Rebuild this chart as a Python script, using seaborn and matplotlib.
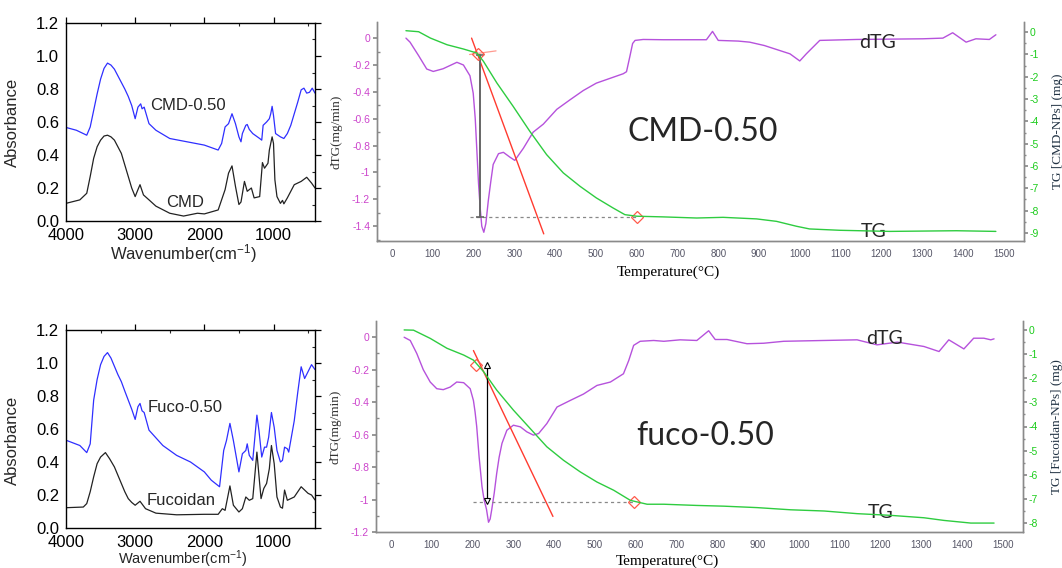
import numpy as np
import pandas as pd
import matplotlib
matplotlib.use("Agg")
import matplotlib.pyplot as plt
import seaborn as sns

# ---------------- FTIR data ----------------
cmd050_wn = [4000, 3850, 3700, 3650, 3600, 3550, 3500, 3450, 3400, 3350, 3300, 3250, 3200, 3150, 3100, 3050, 3000,
             2960, 2920, 2900, 2870, 2800, 2700, 2500, 2000,
             1800, 1750, 1700, 1650, 1600, 1550, 1500, 1470, 1450, 1400, 1380, 1350, 1300, 1200, 1170, 1150, 1100,
             1060, 1040, 1020, 1000, 970, 900, 850, 800, 750, 700, 650, 600, 560, 520, 480, 440, 400]
cmd050_abs = [0.567, 0.55, 0.52, 0.57, 0.67, 0.77, 0.86, 0.925, 0.957, 0.945, 0.92, 0.88, 0.84, 0.80, 0.755, 0.70,
              0.62, 0.69, 0.71, 0.68, 0.69, 0.59, 0.55, 0.50, 0.46,
              0.43, 0.47, 0.57, 0.59, 0.65, 0.59, 0.51, 0.48, 0.53, 0.58, 0.585, 0.555, 0.53, 0.50, 0.49, 0.58, 0.60,
              0.62, 0.65, 0.695, 0.64, 0.53, 0.51, 0.50, 0.53, 0.58, 0.65, 0.72, 0.795, 0.805, 0.775, 0.78, 0.805,
              0.775]
cmd_wn = [4000, 3800, 3700, 3650, 3600, 3550, 3500, 3450, 3400, 3350, 3300, 3250, 3200, 3150, 3100, 3050, 3000,
          2960, 2930, 2880, 2800, 2700, 2500, 2300, 2100,
          2000, 1800, 1700, 1650, 1600, 1550, 1500, 1470, 1420, 1380, 1320, 1280, 1200, 1160, 1130, 1080, 1060, 1020,
          1000, 980, 950, 900, 870, 850, 800, 700, 600, 520, 450, 400]
cmd_abs = [0.107, 0.128, 0.168, 0.27, 0.38, 0.45, 0.49, 0.515, 0.52, 0.51, 0.49, 0.45, 0.41, 0.34, 0.27, 0.20, 0.148,
           0.19, 0.22, 0.158, 0.128, 0.09, 0.047, 0.03, 0.047,
           0.043, 0.067, 0.19, 0.29, 0.334, 0.21, 0.10, 0.115, 0.24, 0.18, 0.20, 0.14, 0.148, 0.354,
           0.32, 0.35, 0.43, 0.51, 0.47, 0.25, 0.148, 0.107, 0.125, 0.104, 0.14, 0.22, 0.24, 0.265, 0.23, 0.20]
fuco050_wn = [4000, 3800, 3700, 3650, 3600, 3550, 3500, 3450, 3400, 3350, 3300, 3250, 3200, 3150, 3100, 3050, 3000,
              2960, 2930, 2900, 2870, 2800, 2600,
              2400, 2200, 2000, 1900, 1780, 1720, 1680, 1630, 1580, 1500, 1450, 1400, 1380, 1350, 1300, 1260, 1240,
              1210, 1170, 1130, 1100, 1070, 1030, 990, 950, 900, 870, 840, 800, 780, 700, 650, 600, 550, 450, 400]
fuco050_abs = [0.532, 0.50, 0.457, 0.51, 0.775, 0.90, 0.99, 1.04, 1.063, 1.03, 0.98, 0.93, 0.887, 0.83, 0.775, 0.72,
               0.658, 0.735, 0.755, 0.71, 0.70, 0.593, 0.50, 0.44, 0.40, 0.34, 0.29, 0.25, 0.47, 0.53, 0.634, 0.53,
               0.34, 0.45, 0.47, 0.51, 0.44, 0.41,
               0.593, 0.684, 0.59, 0.43, 0.49, 0.49, 0.55, 0.70, 0.61, 0.47, 0.40, 0.41, 0.49, 0.48, 0.46, 0.65,
               0.82, 0.977, 0.906, 0.99, 0.96]
fucoidan_wn = [4000, 3750, 3700, 3650, 3600, 3550, 3500, 3430, 3370, 3300, 3250, 3200, 3150, 3100, 3050, 3000, 2930,
               2850, 2700, 2400, 2000, 1800, 1740,
               1700, 1630, 1580, 1500, 1450, 1400, 1350, 1300, 1240, 1200, 1180, 1140, 1100, 1060, 1030, 990, 950,
               900, 870, 840, 800, 700, 600, 550, 500, 450, 400]
fucoidan_abs = [0.123, 0.127, 0.148, 0.22, 0.31, 0.39, 0.43, 0.457, 0.42, 0.37, 0.32, 0.27, 0.22, 0.178, 0.155,
                0.138, 0.162, 0.117, 0.09, 0.08, 0.083,
                0.083, 0.117, 0.107, 0.255, 0.138, 0.097, 0.117, 0.188, 0.168, 0.178, 0.46, 0.27, 0.178, 0.24, 0.27,
                0.36, 0.50, 0.39, 0.188, 0.127, 0.12, 0.23, 0.168, 0.188, 0.25, 0.23, 0.21, 0.20, 0.17]

ftir_xticks = [4000, 3000, 2000, 1000]
ftir_yticks = [0.0, 0.2, 0.4, 0.6, 0.8, 1.0, 1.2]

# ---------------- TGA data: CMD-0.50 ----------------
cmd_dtg_T = [34, 44, 65, 85, 101, 125, 159, 175, 191, 199, 204, 208, 212, 216, 220, 225, 230, 236, 242, 248, 261,
             273, 289, 301, 322, 346,
             371, 404, 436, 469, 501, 534, 567, 575, 583, 590, 596, 616, 665, 730, 771, 786, 800, 849, 877, 913, 976,
             1000, 1016, 1049, 1139, 1302, 1351, 1375, 1408, 1432, 1465, 1481]
cmd_dtg = [0.0, -0.03, -0.13, -0.23, -0.248, -0.228, -0.18, -0.20, -0.28, -0.41, -0.60, -0.84, -1.08, -1.26, -1.40,
           -1.445, -1.38, -1.21, -1.07, -0.94, -0.86, -0.85, -0.886, -0.91, -0.82, -0.70, -0.64, -0.53, -0.46, -0.39,
           -0.335, -0.30, -0.265, -0.25, -0.14, -0.04, -0.017, -0.01, -0.012, -0.012, -0.012, 0.05, -0.017, -0.022,
           -0.03, -0.055, -0.117, -0.17, -0.117, -0.017, -0.01, -0.005, 0.0, 0.04, -0.03, -0.005, -0.01, 0.025]
cmd_tg_T = [34, 65, 94, 135, 175, 208, 224, 257, 297, 338, 379, 420, 461, 501, 542, 571, 600, 665, 747, 812, 894,
            943, 992, 1024, 1098, 1221, 1384, 1481]
cmd_tg = [0.06, 0.015, -0.27, -0.57, -0.76, -0.94, -1.31, -2.28, -3.33, -4.45, -5.49, -6.31, -6.91, -7.43, -7.88,
          -8.18, -8.25, -8.28, -8.33, -8.30, -8.37, -8.48, -8.70, -8.82, -8.88, -8.93, -8.90, -8.93]
cmd_tangent_T = [195, 372]
cmd_tangent_dtg = [0.0, -1.457]
cmd_base_T = [190, 255]
cmd_base_dtg = [-0.122, -0.095]
cmd_step_T = [216, 216]
cmd_step_dtg = [-0.124, -1.33]
cmd_level_T = [192, 600]
cmd_level_dtg = [-1.33, -1.33]
cmd_marks_T = [210, 600]
cmd_marks_dtg = [-0.115, -1.33]

# ---------------- TGA data: fuco-0.50 ----------------
fuco_dtg_T = [32, 47, 63, 79, 96, 112, 128, 145, 161, 178, 194, 202, 206, 210, 216, 223, 228, 234, 239, 243, 247,
              253, 259, 265, 272, 284, 300,
              317, 333, 349, 362, 382, 407, 439, 472, 505, 538, 570, 583, 595, 611, 644, 669, 709, 750, 779, 795,
              824, 873, 914, 963, 1062, 1143, 1192, 1242, 1307, 1344, 1368, 1405, 1429, 1454, 1471, 1479]
fuco_dtg = [0.0, -0.02, -0.10, -0.20, -0.276, -0.317, -0.323, -0.307, -0.276, -0.28, -0.317, -0.39, -0.46, -0.55,
            -0.74, -0.92, -1.0, -1.06, -1.14, -1.12, -1.06, -0.96, -0.84, -0.74, -0.654, -0.573, -0.542, -0.552,
            -0.583, -0.603, -0.593, -0.532, -0.43, -0.39,
            -0.35, -0.297, -0.276, -0.225, -0.143, -0.05, -0.025, -0.02, -0.025, -0.016, -0.02, 0.04, -0.014,
            -0.014, -0.04, -0.037, -0.025, -0.02, -0.016, -0.047, -0.03, -0.057, -0.088, -0.016, -0.072, -0.006,
            -0.006, -0.016, -0.01]
fuco_tg_T = [32, 55, 96, 137, 178, 202, 227, 259, 300, 341, 382, 423, 464, 505, 546, 587, 628, 669, 750, 816, 898,
             980, 1062, 1143, 1225, 1307, 1356, 1422, 1479]
fuco_tg = [0.0, -0.01, -0.35, -0.76, -1.04, -1.25, -1.73, -2.49, -3.32, -4.08, -4.84, -5.40, -5.88, -6.30, -6.64,
           -7.06, -7.22, -7.22, -7.27, -7.30, -7.36, -7.45, -7.50, -7.61, -7.68, -7.78, -7.89, -8.0, -8.0]
fuco_tangent_T = [202, 397]
fuco_tangent_dtg = [-0.082, -1.104]
fuco_step_T = [236, 236]
fuco_step_dtg = [-0.174, -1.012]
fuco_level_T = [202, 595]
fuco_level_dtg = [-1.018, -1.018]
fuco_marks_T = [208, 595]
fuco_marks_dtg = [-0.17, -1.018]

tga_xticks = [0, 100, 200, 300, 400, 500, 600, 700, 800, 900, 1000, 1100, 1200, 1300, 1400, 1500]

# ---------------- styling ----------------
sns.set_theme(style="white")
plt.rcParams['font.family'] = ['Liberation Sans', 'DejaVu Sans']
plt.rcParams['mathtext.fontset'] = 'custom'
plt.rcParams['mathtext.rm'] = 'Liberation Sans'
plt.rcParams['mathtext.it'] = 'Liberation Sans:italic'
plt.rcParams['mathtext.bf'] = 'Liberation Sans:bold'
plt.rcParams['lines.solid_joinstyle'] = 'round'

BLUE = "#2f2fff"
BLACK = "#222222"
PURPLE = "#b652dc"
GREEN = "#2ecc40"
RED = "#ff3b30"
PINK_TICK = "#cc44cc"
GREEN_TICK = "#1ccc1c"
SPINE_GRAY = "#8a8a8a"
SERIF = ['Liberation Serif', 'DejaVu Serif']
CAL = ['Lato', 'DejaVu Sans']

fig = plt.figure(figsize=(10.62, 5.68), dpi=100)
W, H = 1062, 568


def axes_px(left, top, right, bottom):
    return fig.add_axes([left / W, 1 - bottom / H, (right - left) / W, (bottom - top) / H])


def ftir_panel(ax, wn1, a1, lab1, pos1, wn2, a2, lab2, pos2, ylab_y, xlab_y, xlab_size=12):
    df1 = pd.DataFrame({"wn": wn1, "a": a1})
    df2 = pd.DataFrame({"wn": wn2, "a": a2})
    sns.lineplot(data=df1, x="wn", y="a", ax=ax, color=BLUE, lw=0.9, sort=False, estimator=None)
    sns.lineplot(data=df2, x="wn", y="a", ax=ax, color=BLACK, lw=0.9, sort=False, estimator=None)
    ax.set_xlim(4000, 400)
    ax.set_ylim(0, 1.2)
    ax.set_xticks(ftir_xticks)
    ax.set_yticks(ftir_yticks)
    ax.set_yticklabels([f"{v:.1f}" for v in ftir_yticks])
    ax.set_xticks([3500, 2500, 1500, 500], minor=True)
    ax.set_yticks([0.1, 0.3, 0.5, 0.7, 0.9, 1.1], minor=True)
    ax.tick_params(axis='both', which='major', direction='out', length=4, width=0.9, labelsize=12,
                   colors='black', pad=1)
    ax.tick_params(axis='both', which='minor', direction='in', length=2.5, width=0.8)
    ax.tick_params(top=True, right=True, which='both')
    for s in ax.spines.values():
        s.set_color('black')
        s.set_linewidth(1.0)
    ax.set_xlabel("Wavenumber(cm$^{-1}$)", fontsize=xlab_size, labelpad=0)
    ax.set_ylabel("Absorbance", fontsize=12)
    ax.yaxis.set_label_coords(-0.185, ylab_y)
    ax.xaxis.set_label_coords(0.47, xlab_y)
    ax.text(pos1[0], pos1[1], lab1, fontsize=12, ha='center', va='center')
    ax.text(pos2[0], pos2[1], lab2, fontsize=12, ha='center', va='center')


ax1 = axes_px(66, 23, 315, 221)
ftir_panel(ax1, cmd050_wn, cmd050_abs, "CMD-0.50", (2230, 0.70), cmd_wn, cmd_abs, "CMD", (2280, 0.115), 0.5,
           -0.105)
ax3 = axes_px(66, 330, 315, 528)
ftir_panel(ax3, fuco050_wn, fuco050_abs, "Fuco-0.50", (2280, 0.73), fucoidan_wn, fucoidan_abs, "Fucoidan",
           (2330, 0.165), 0.44, -0.103, xlab_size=10.5)


def tga_panel(ax, dT, dv, tT, tv, tanT, tanv, stepT, stepv, levT, levv, mT, mv, ylim, ylim2, y2ticks,
              y2label, big, bigpos, dtg_pos, tg_pos, base=None, arrow_style='bar', xlab_y=-0.11):
    ax2 = ax.twinx()
    sns.lineplot(x=dT, y=dv, ax=ax, color=PURPLE, lw=1.0, sort=False, estimator=None)
    ax.plot(tanT, tanv, color=RED, lw=1.0)
    if base is not None:
        ax.plot(base[0], base[1], color="#ff9a90", lw=0.9)
    ax.plot(levT, levv, color="#888888", lw=0.9, ls=(0, (2.5, 2.5)))
    if arrow_style == 'bar':
        ax.plot(stepT, stepv, color="#666666", lw=1.4, marker='_', ms=6, mew=1.2)
    else:
        ax.plot(stepT, stepv, color="black", lw=0.9)
        ax.plot(stepT[0], stepv[0], marker='^', ms=5, mfc='white', mec='black', mew=0.8)
        ax.plot(stepT[1], stepv[1], marker='v', ms=5, mfc='white', mec='black', mew=0.8)
    ax.plot(mT, mv, ls='none', marker='D', ms=6, mfc='none', mec="#ff5a4a", mew=0.9)
    sns.lineplot(x=tT, y=tv, ax=ax2, color=GREEN, lw=1.0, sort=False, estimator=None)

    ax.set_xlim(-37, 1550)
    ax.set_ylim(*ylim)
    ax2.set_ylim(*ylim2)
    ax.set_xticks(tga_xticks)
    ax.set_xticks(np.arange(50, 1550, 100), minor=True)
    yt = np.round(np.arange(0, ylim[0] - 1e-9, -0.2), 1)
    ax.set_yticks(yt)
    ax.set_yticklabels(["0" if v == 0 else ("-1" if v == -1 else f"{v:.1f}") for v in yt])
    ax.set_yticks(np.round(np.arange(-0.1, ylim[0], -0.2), 1), minor=True)
    ax2.set_yticks(y2ticks)
    ax2.set_yticklabels([str(v) for v in y2ticks])
    ax2.set_yticks(np.arange(-0.5, y2ticks[-1], -1.0), minor=True)

    ax.spines['top'].set_visible(False)
    ax2.spines['top'].set_visible(False)
    for s in ['left', 'bottom', 'right']:
        ax.spines[s].set_color(SPINE_GRAY)
        ax.spines[s].set_linewidth(1.0)
        ax2.spines[s].set_color(SPINE_GRAY)
        ax2.spines[s].set_linewidth(1.0)
    ax.tick_params(axis='y', which='major', direction='out', length=3, colors=SPINE_GRAY,
                   labelcolor=PINK_TICK, labelsize=7.5, pad=2)
    ax.tick_params(axis='y', which='minor', direction='in', length=2, colors=SPINE_GRAY)
    ax.tick_params(axis='x', which='major', direction='out', length=3, colors=SPINE_GRAY,
                   labelcolor="#555566", labelsize=7, pad=3)
    ax.tick_params(axis='x', which='minor', direction='in', length=2, colors=SPINE_GRAY)
    ax2.tick_params(axis='y', which='major', direction='out', length=3, colors=SPINE_GRAY,
                    labelcolor=GREEN_TICK, labelsize=7.5, pad=1)
    ax2.tick_params(axis='y', which='minor', direction='out', length=1.5, colors=SPINE_GRAY)
    ax2.set_ylabel(y2label, family=SERIF, fontsize=9.5, color="#223344", labelpad=4)
    ax2.yaxis.set_label_coords(1.043, 0.5)
    ax.set_ylabel("dTG(mg/min)", family=SERIF, fontsize=9.5, color="#333333")
    ax.yaxis.set_label_coords(-0.053, 0.5)
    ax.set_xlabel("Temperature(\u00b0C)", family=SERIF, fontsize=11, color="black")
    ax.xaxis.set_label_coords(0.45, xlab_y)
    ax.text(bigpos[0], bigpos[1], big, family=CAL, fontsize=23, ha='center', va='center')
    ax.text(dtg_pos[0], dtg_pos[1], "dTG", family=CAL, fontsize=14, ha='center', va='center')
    ax.text(tg_pos[0], tg_pos[1], "TG", family=CAL, fontsize=14, ha='center', va='center')
    ax.patch.set_alpha(0)
    return ax2


ax2 = axes_px(377, 22, 1024, 241)
tga_panel(ax2, cmd_dtg_T, cmd_dtg, cmd_tg_T, cmd_tg, cmd_tangent_T, cmd_tangent_dtg, cmd_step_T, cmd_step_dtg,
          cmd_level_T, cmd_level_dtg, cmd_marks_T, cmd_marks_dtg, (-1.51, 0.12), (-9.36, 0.45),
          [0, -1, -2, -3, -4, -5, -6, -7, -8, -9], "TG [CMD-NPs] (mg)", "CMD-0.50", (762, -0.70),
          (1190, -0.03), (1180, -1.44), base=(cmd_base_T, cmd_base_dtg), arrow_style='bar', xlab_y=-0.11)

ax4 = axes_px(376, 321, 1023, 532)
tga_panel(ax4, fuco_dtg_T, fuco_dtg, fuco_tg_T, fuco_tg, fuco_tangent_T, fuco_tangent_dtg, fuco_step_T,
          fuco_step_dtg, fuco_level_T, fuco_level_dtg, fuco_marks_T, fuco_marks_dtg, (-1.2, 0.1), (-8.37, 0.37),
          [0, -1, -2, -3, -4, -5, -6, -7, -8], "TG [Fucoidan-NPs] (mg)", "fuco-0.50", (770, -0.61),
          (1210, -0.01), (1200, -1.08), arrow_style='tri', xlab_y=-0.105)

fig.savefig("out.png", dpi=100)
